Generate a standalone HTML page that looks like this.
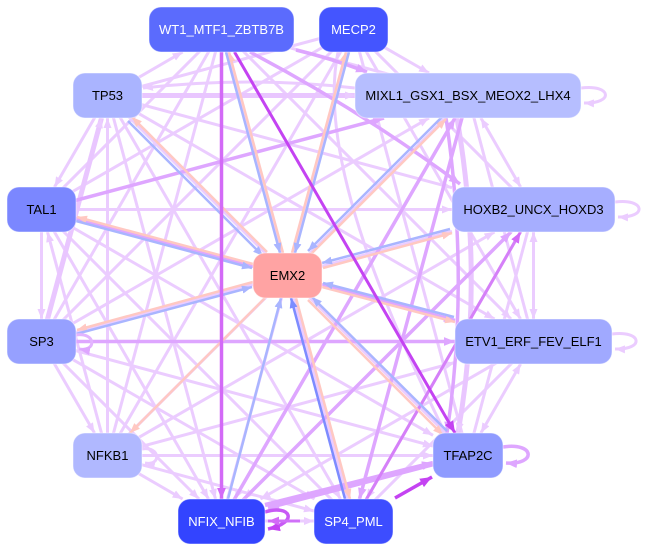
<!DOCTYPE html>
<html><head><meta charset="utf-8"><style>
html,body{margin:0;padding:0;background:#fff;}
svg{display:block;}
text{font-family:"Liberation Sans",Arial,sans-serif;font-size:13px;}
</style></head><body>
<svg width="647" height="551" viewBox="0 0 647 551" xmlns="http://www.w3.org/2000/svg">
<defs>
<marker id="ml" viewBox="0 0 10 8" refX="10" refY="4" markerWidth="10" markerHeight="8" markerUnits="userSpaceOnUse" orient="auto-start-reverse"><path d="M0,0L10,4L0,8z" fill="#ebccff"/></marker>
<marker id="mm" viewBox="0 0 10 8" refX="10" refY="4" markerWidth="11" markerHeight="9" markerUnits="userSpaceOnUse" orient="auto-start-reverse"><path d="M0,0L10,4L0,8z" fill="#dea6ff"/></marker>
<marker id="md" viewBox="0 0 10 8" refX="10" refY="4" markerWidth="12" markerHeight="10" markerUnits="userSpaceOnUse" orient="auto-start-reverse"><path d="M0,0L10,4L0,8z" fill="#c443f2"/></marker>
<marker id="mv" viewBox="0 0 10 8" refX="10" refY="4" markerWidth="11" markerHeight="9" markerUnits="userSpaceOnUse" orient="auto-start-reverse"><path d="M0,0L10,4L0,8z" fill="#d36af7"/></marker>
<marker id="mb" viewBox="0 0 10 8" refX="10" refY="4" markerWidth="10" markerHeight="8" markerUnits="userSpaceOnUse" orient="auto"><path d="M0,0L10,4L0,8z" fill="#a9b5ff"/></marker>
<marker id="mB" viewBox="0 0 10 8" refX="10" refY="4" markerWidth="10" markerHeight="8" markerUnits="userSpaceOnUse" orient="auto"><path d="M0,0L10,4L0,8z" fill="#7d8cff"/></marker>
<marker id="mp" viewBox="0 0 10 8" refX="10" refY="4" markerWidth="10" markerHeight="8" markerUnits="userSpaceOnUse" orient="auto"><path d="M0,0L10,4L0,8z" fill="#ffc8c2"/></marker>
</defs>

<g stroke="#ebccff" stroke-width="3" fill="none">
<path d="M221.5,29.5 L468,95.5"/>
<path d="M221.5,29.5 L41.5,209.5"/>
<path d="M221.5,29.5 L41.5,341.5"/>
<path d="M221.5,29.5 L107.5,455.5"/>
<path d="M221.5,29.5 L353.5,521.5"/>
<path d="M353.5,29.5 L107.5,95.5"/>
<path d="M353.5,29.5 L41.5,209.5"/>
<path d="M353.5,29.5 L533.5,209.5"/>
<path d="M353.5,29.5 L41.5,341.5"/>
<path d="M353.5,29.5 L107.5,455.5"/>
<path d="M353.5,29.5 L468,455.5"/>
<path d="M353.5,29.5 L221.5,521.5"/>
<path d="M338,52 C318,150 380,300 445,433"/>
<path d="M468,95.5 L533.5,341.5"/>
<path d="M41.5,209.5 L353.5,521.5"/>
<path d="M533.5,209.5 L468,455.5"/>
<path d="M533.5,341.5 L353.5,521.5"/>
</g>

<g stroke="#ebccff" stroke-width="3" fill="none" marker-end="url(#ml)">
<path d="M107.5,95.5 L182.6,52"/>
<path d="M107.5,95.5 L54.5,187"/>
<path d="M107.5,455.5 L107.5,118"/>
<path d="M41.5,209.5 L41.5,319"/>
<path d="M107.5,455.5 L47.5,232"/>
<path d="M41.5,341.5 L94.5,433"/>
<path d="M353.5,29.5 L429,73"/>
<path d="M41.5,341.5 L199,499"/>
<path d="M107.5,455.5 L182.6,499"/>
<path d="M107.5,95.5 L215.5,499"/>
<path d="M41.5,209.5 L208.5,499"/>
<path d="M533.5,209.5 L244,499"/>
<path d="M468,95.5 L234.5,499"/>
<path d="M533.5,341.5 L260.5,499"/>
<path d="M41.5,341.5 L314.5,499"/>
<path d="M107.5,455.5 L314,511"/>
<path d="M107.5,95.5 L340.5,499"/>
<path d="M533.5,209.5 L366.5,499"/>
<path d="M107.5,455.5 L433,455.5"/>
<path d="M41.5,341.5 L433,446.1"/>
<path d="M41.5,209.5 L433,435.3"/>
<path d="M107.5,95.5 L445.5,433"/>
<path d="M107.5,95.5 L494.5,319"/>
<path d="M107.5,455.5 L455,362.5"/>
<path d="M221.5,29.5 L511,319"/>
<path d="M353.5,29.5 L520.5,319"/>
<path d="M41.5,209.5 L452,209.5"/>
<path d="M107.5,95.5 L452,187.7"/>
<path d="M41.5,341.5 L452,231.4"/>
<path d="M107.5,455.5 L494.5,232"/>
<path d="M41.5,341.5 L429,118"/>
<path d="M107.5,455.5 L445.5,118"/>
<path d="M355,88 Q250,76 143,88"/>
<path d="M265,521 L314,521"/>
<path d="M480.9,118 L520.6,187" marker-start="url(#ml)"/>
<path d="M533.5,232 L533.5,319" marker-start="url(#ml)"/>
<path d="M520.6,364 L480.9,433" marker-start="url(#ml)"/>
</g>
<g stroke="#e9c6ff" stroke-width="5" fill="none" marker-end="url(#ml)">
<path d="M41.5,341.5 L101.5,118"/>
<path d="M142,95.5 L355,95.5"/>
<path d="M457,118 Q485,280 458,433"/>
</g>

<g stroke="#dea6ff" stroke-width="3.5" fill="none" marker-end="url(#mm)">
<path d="M468,95.5 L359.5,499"/>
<path d="M41.5,341.5 L455,341.5"/>
<path d="M221.5,521.5 L511,232"/>
<path d="M221.5,521.5 L455,118"/>
<path d="M41.5,209.5 L384,118"/>
<path d="M41.5,209.5 L455,320.5"/>
<path d="M250,52 Q360,110 460,184"/>
<path d="M468,455.5 L268,508"/>
<path d="M296,50 Q330,58 367,72"/>
<path d="M446,118 Q470,280 447,433"/>
</g>
<path d="M265,505 L433,463" stroke="#dea6ff" stroke-width="4.5" fill="none" marker-end="url(#mm)"/>
<path d="M353.5,521.5 L520.5,232" stroke="#d580f8" stroke-width="3" fill="none" marker-end="url(#mv)"/>

<g stroke="#ffc8c2" stroke-width="2.5" fill="none" marker-end="url(#mp)">
<path d="M283,253 L229,52"/>
<path d="M292,253 L346,52"/>
<path d="M267,252 L132,117"/>
<path d="M311,254 L446,119"/>
<path d="M253,264 L77,217"/>
<path d="M323,268 L452,233"/>
<path d="M253,282 L77,330"/>
<path d="M322,287 L455,322"/>
<path d="M265,298 L130,433"/>
<path d="M308,300 L443,435"/>
<path d="M296,298 L350,499"/>
</g>
<g stroke="#a9b5ff" stroke-width="2.5" fill="none" marker-end="url(#mb)">
<path d="M226,52 L280,253"/>
<path d="M349,52 L295,253"/>
<path d="M128,121 L263,256"/>
<path d="M443,116 L308,251"/>
<path d="M76,221 L252,268"/>
<path d="M450,229 L322,263"/>
<path d="M76,334 L252,287"/>
<path d="M454,317 L323,283"/>
<path d="M447,431 L312,297"/>
<path d="M228,499 L281,298"/>
</g>
<path d="M345,499 L291,298" stroke="#7d8cff" stroke-width="2.5" fill="none" marker-end="url(#mB)"/>

<path d="M221.5,52 L221.5,499" stroke="#d36af7" stroke-width="3.5" fill="none" marker-end="url(#mv)"/>
<path d="M234.5,52 L455,433" stroke="#c443f2" stroke-width="3" fill="none" marker-end="url(#md)"/>
<path d="M395,498 L432,477" stroke="#c443f2" stroke-width="3.5" fill="none" marker-end="url(#md)"/>
<path d="M265,512 C290,504 300,522 268,529" stroke="#c75af5" stroke-width="3.5" fill="none" marker-end="url(#md)"/>
<path d="M300,521 L268,521" stroke="#d070f8" stroke-width="3" fill="none" marker-end="url(#mv)"/>

<g stroke="#ebccff" stroke-width="3" fill="none" marker-end="url(#ml)">
<path d="M581,88 C612,84 614,104 584,103"/>
<path d="M615,202 C645,198 648,218 618,217"/>
<path d="M612,334 C642,330 645,350 615,349"/>
<path d="M142,449 C160,446 162,466 145,463"/>
</g>
<path d="M503,447 C535,442 537,465 506,463" stroke="#dea6ff" stroke-width="3.5" fill="none" marker-end="url(#mm)"/>
<path d="M76,335 C96,332 97,352 79,349" stroke="#e3b4ff" stroke-width="3" fill="none" marker-end="url(#mm)"/>

<g stroke="rgba(255,255,255,0.45)" stroke-width="1">
<rect x="149" y="7" width="145" height="45" rx="12" fill="#5b6bfd"/>
<rect x="319" y="7" width="69" height="45" rx="12" fill="#4455ff"/>
<rect x="73" y="73" width="69" height="45" rx="12" fill="#aab4ff"/>
<rect x="355" y="73" width="226" height="45" rx="12" fill="#b6beff"/>
<rect x="7" y="187" width="69" height="45" rx="12" fill="#7b87ff"/>
<rect x="452" y="187" width="163" height="45" rx="12" fill="#a6aeff"/>
<rect x="253" y="253" width="69" height="45" rx="12" fill="#ffa3a3"/>
<rect x="7" y="319" width="69" height="45" rx="12" fill="#96a0ff"/>
<rect x="455" y="319" width="157" height="45" rx="12" fill="#a0a9ff"/>
<rect x="73" y="433" width="69" height="45" rx="12" fill="#b0b8ff"/>
<rect x="433" y="433" width="70" height="45" rx="12" fill="#8f9bff"/>
<rect x="178" y="499" width="87" height="45" rx="12" fill="#3344ff"/>
<rect x="314" y="499" width="79" height="45" rx="12" fill="#3d4dff"/>
</g>
<g text-anchor="middle">
<text x="221.5" y="34" fill="#ffffff">WT1_MTF1_ZBTB7B</text>
<text x="353.5" y="34" fill="#ffffff">MECP2</text>
<text x="107.5" y="100" fill="#000">TP53</text>
<text x="468" y="100" fill="#000">MIXL1_GSX1_BSX_MEOX2_LHX4</text>
<text x="41.5" y="214" fill="#000">TAL1</text>
<text x="533.5" y="214" fill="#000">HOXB2_UNCX_HOXD3</text>
<text x="287.5" y="280" fill="#000">EMX2</text>
<text x="41.5" y="346" fill="#000">SP3</text>
<text x="533.5" y="346" fill="#000">ETV1_ERF_FEV_ELF1</text>
<text x="107.5" y="460" fill="#000">NFKB1</text>
<text x="468" y="460" fill="#000">TFAP2C</text>
<text x="221.5" y="526" fill="#ffffff">NFIX_NFIB</text>
<text x="353.5" y="526" fill="#ffffff">SP4_PML</text>
</g>
</svg>
</body></html>
